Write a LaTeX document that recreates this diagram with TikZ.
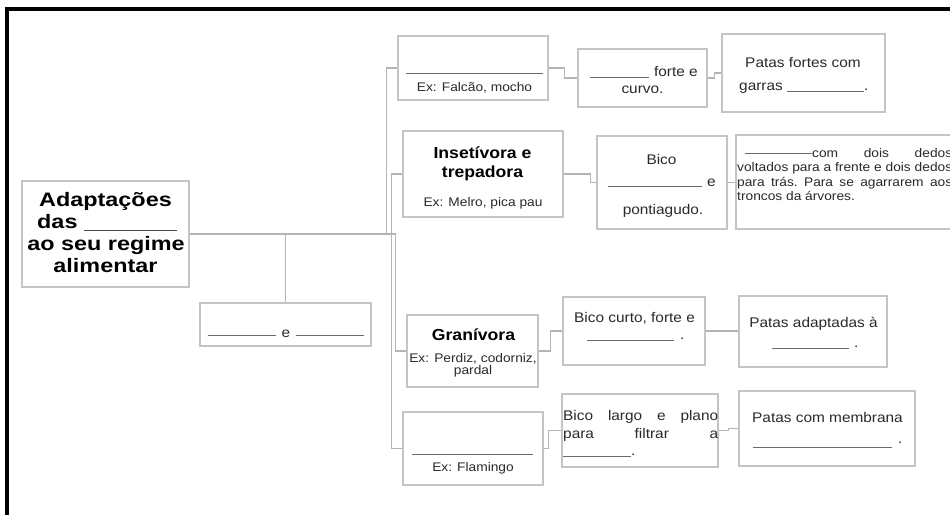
\documentclass[tikz,border=0pt]{standalone}
\usepackage{fontspec}
\setmainfont{Liberation Sans}[FakeStretch=1.1]
\newfontfamily\titlefont{Liberation Sans}[FakeStretch=1.2]
\definecolor{boxgray}{HTML}{C4C4C4}
\definecolor{linegray}{HTML}{B4B4B4}
\definecolor{txtcol}{HTML}{2A2A2A}
\definecolor{blankgray}{HTML}{6A6A6A}
\newcommand{\blank}[2][-1.5pt]{\textcolor{blankgray}{\rule[#1]{#2pt}{0.9pt}}}
\begin{document}
\begin{tikzpicture}[x=1pt,y=-1pt,
  box/.style={draw=boxgray, line width=1.3pt, rectangle, inner sep=0pt, fill=white},
  conn/.style={draw=linegray, line width=1.2pt},
  blankline/.style={draw=blankgray, line width=0.9pt},
  txt/.style={inner sep=0pt, text=txtcol, font=\fontsize{14}{16}\selectfont},
  smalltxt/.style={inner sep=0pt, text=txtcol, font=\fontsize{12.5}{14}\selectfont},
  ttl/.style={inner sep=0pt, text=black, font=\titlefont\bfseries\fontsize{19.5}{22}\selectfont},
  hd/.style={inner sep=0pt, text=black, font=\bfseries\fontsize{16}{19}\selectfont},
  blackframe/.style={line width=4pt, black}]
\useasboundingbox (0,0) rectangle (950,514);
\clip (0,0) rectangle (950,514);
\fill[white] (0,0) rectangle (950,514);
\draw[blackframe] (6.5,530) -- (6.5,9) -- (960,9);

% boxes
\node[box, minimum width=167, minimum height=106] (main) at (105.5,234) {};
\node[box, minimum width=171, minimum height=43] (ebox) at (285.5,324.5) {};
\node[box, minimum width=150, minimum height=64] (falcao) at (473,68) {};
\node[box, minimum width=129, minimum height=58] (b2) at (642.5,78) {};
\node[box, minimum width=163, minimum height=78] (b3) at (803.5,73) {};
\node[box, minimum width=160, minimum height=86] (inset) at (483,174) {};
\node[box, minimum width=130, minimum height=93] (b5) at (662,182.5) {};
\node[box, minimum width=229, minimum height=94] (b6) at (850.5,182) {};
\node[box, minimum width=131, minimum height=72] (gran) at (472.5,351) {};
\node[box, minimum width=142, minimum height=68] (b8) at (634,331) {};
\node[box, minimum width=148, minimum height=71] (b9) at (813,331.5) {};
\node[box, minimum width=140, minimum height=73] (flam) at (473,448.5) {};
\node[box, minimum width=156, minimum height=73] (b11) at (640,430.5) {};
\node[box, minimum width=176, minimum height=75] (b12) at (827,428.5) {};

% connectors
\draw[conn] (main.east) -| (ebox.north);
\draw[conn] (main.east) -- ++(197,0) |- (falcao.west);
\draw[conn] (main.east) -- ++(202,0) |- (inset.west);
\draw[conn] (main.east) -- ++(206,0) |- (gran.west);
\draw[conn] (main.east) -- ++(202,0) |- (flam.west);
\draw[conn] (falcao.east) -- ++(16,0) |- (b2.west);
\draw[conn] (b2.east) -- ++(7,0) |- (b3.west);
\draw[conn] (inset.east) -- ++(27,0) |- (b5.west);
\draw[conn] (b5.east) -- (b5.east -| b6.west);
\draw[conn] (gran.east) -- ++(12,0) |- (b8.west);
\draw[conn] (b8.east) -- (b8.east -| b9.west);
\draw[conn] (flam.east) -- ++(5,0) |- (b11.west);
\draw[conn] (b11.east) -- ++(10,0) |- (b12.west);

% main box text
\node[ttl, anchor=base] (m1) at (105.5,206) {Adaptações};
\node[ttl, anchor=base west] (m2) at (37,228) {das \textcolor{blankgray!70!black}{\rule[-3pt]{93pt}{1.3pt}}};
\node[ttl, anchor=base] (m3) at (106,250) {ao seu regime};
\node[ttl, anchor=base] (m4) at (105.5,272) {alimentar};

\node[txt, anchor=base] (e0) at (286,337) {\blank[1pt]{68}\hspace{6pt}e\hspace{6pt}\blank[1pt]{68}};

% Falcao
\draw[blankline] (406,73) -- (543,73);
\node[smalltxt, anchor=base] (f2) at (474.5,91.5) {Ex: Falcão, mocho};
\node[txt, anchor=base east] (c1) at (698,76) {\blank[-1.5pt]{59}\hspace{5pt}forte e};
\node[txt, anchor=base] (c2) at (642.5,93) {curvo.};
\node[txt, anchor=base] (d1) at (803,67) {Patas fortes com};
\node[txt, anchor=base west] (d2) at (739,90) {garras \blank{77}.};

% Insetivora
\node[hd, anchor=base] (i1) at (482.5,158) {Insetívora e};
\node[hd, anchor=base] (i2) at (482.5,177) {trepadora};
\node[smalltxt, anchor=base] (i3) at (483,206.5) {Ex: Melro, pica pau};
\node[txt, anchor=base] (e1) at (661.5,164) {Bico};
\node[txt, anchor=base west] (e2) at (608,186) {\blank[-1pt]{94}\hspace{5pt}e};
\node[txt, anchor=base] (e3) at (663,214) {pontiagudo.};
\node[smalltxt, anchor=base west] (g1) at (737,157) {\hbox to 215pt{\hspace{8pt}\blank[3.5pt]{67}com\hfill dois\hfill dedos}};
\node[smalltxt, anchor=base west] (g2) at (737,171.5) {\hbox to 215pt{voltados\hfill para\hfill a\hfill frente\hfill e\hfill dois\hfill dedos}};
\node[smalltxt, anchor=base west] (g3) at (737,186) {\hbox to 215pt{para\hfill trás.\hfill Para\hfill se\hfill agarrarem\hfill aos}};
\node[smalltxt, anchor=base west] (g4) at (737,200) {troncos da árvores.};

% Granivora
\node[hd, anchor=base] (h1) at (473.5,340) {Granívora};
\node[smalltxt, anchor=base] (h2) at (473,362) {Ex: Perdiz, codorniz,};
\node[smalltxt, anchor=base] (h3) at (473,374.5) {pardal};
\node[txt, anchor=base] (j1) at (634.5,322) {Bico curto, forte e};
\node[txt, anchor=base west] (j2) at (587,339) {\blank{87}\hspace{6pt}.};
\node[txt, anchor=base] (k1) at (813.5,327) {Patas adaptadas à};
\node[txt, anchor=base west] (k2) at (772,347) {\blank{77}\hspace{5pt}.};

% Flamingo
\draw[blankline] (412,454) -- (533,454);
\node[smalltxt, anchor=base] (l1) at (473,471) {Ex: Flamingo};
\node[txt, anchor=base west] (n1) at (563,420) {\hbox to 155pt{Bico\hfill largo\hfill e\hfill plano}};
\node[txt, anchor=base west] (n2) at (563,438) {\hbox to 155pt{para\hfill filtrar\hfill a}};
\node[txt, anchor=base west] (n3) at (563,455) {\blank{68}.};
\node[txt, anchor=base] (o1) at (827.5,422) {Patas com membrana};
\node[txt, anchor=base west] (o2) at (753,446) {\blank{139}\hspace{6pt}\raisebox{3pt}{.}};
\end{tikzpicture}
\end{document}
